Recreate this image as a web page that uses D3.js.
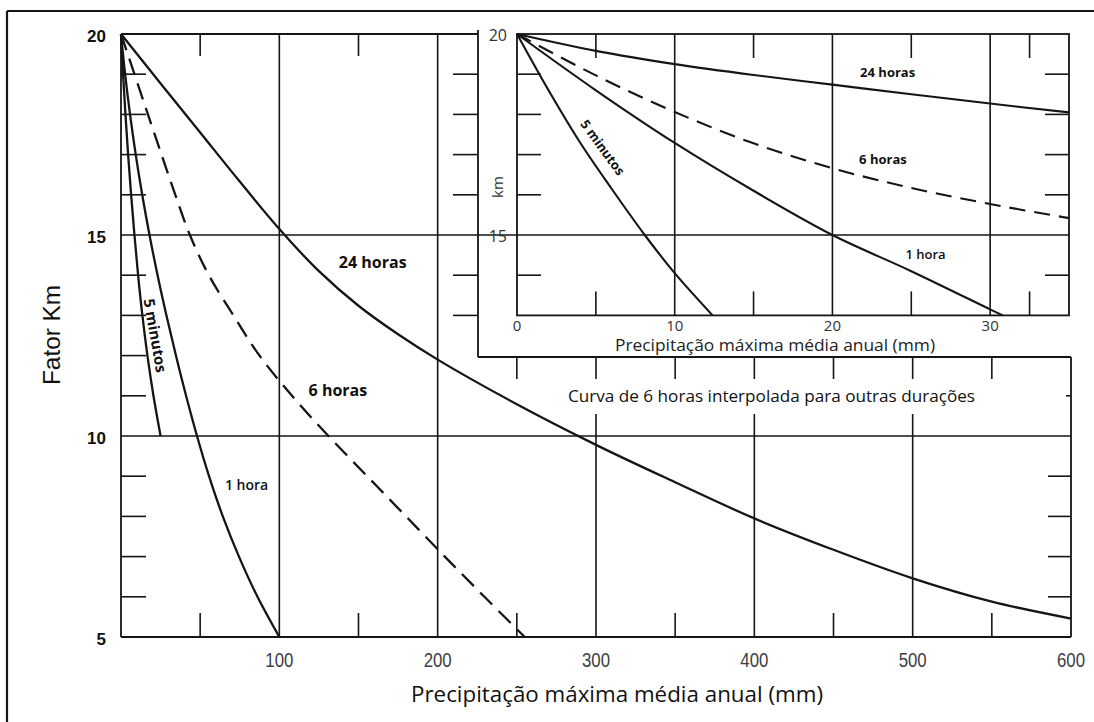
<!DOCTYPE html>
<html>
<head>
<meta charset="utf-8">
<script src="https://cdn.jsdelivr.net/npm/d3@7"></script>
<style>
  html, body { margin: 0; padding: 0; background: #fff; }
  svg { display: block; }
  text { fill: #111; }
</style>
</head>
<body>
<svg id="chart" width="1094" height="722"></svg>
<script>
// ---------- data: main chart (precipitation in mm, factor Km) ----------
const mainXTicks = [100, 200, 300, 400, 500, 600];
const mainYTicks = [20, 15, 10, 5];
const mainXGrid = [100, 200, 300, 400, 500];
const mainXMinor = [50, 150, 250, 350, 450, 550];
const mainYMinor = [19, 18, 17, 16, 14, 13, 12, 11, 9, 8, 7, 6];

const curve24h = [[0,20],[25,18.77],[50,17.55],[75,16.33],[100,15.15],[125,14.1],[150,13.24],[175,12.53],[200,11.9],[250,10.79],[300,9.78],[350,8.85],[400,7.95],[450,7.17],[500,6.46],[550,5.88],[600,5.46]];
const curve6h  = [[0,20],[8.5,19],[17,18],[25.6,17],[34.3,16],[43.5,15],[55.5,14],[71,13],[87.5,12],[108,11],[131,10],[155.5,9],[180,8],[204.5,7],[229.5,6],[255,5]];
const curve1h  = [[0,20],[2.6,19],[5.7,18],[9.3,17],[13.4,16],[18,15],[23.1,14],[28.7,13],[34.7,12],[41.1,11],[48,10],[55.6,9],[64.3,8],[74.5,7],[86.2,6],[100,5]];
const curve5m  = [[0,20],[1.3,19],[2.8,18],[4.5,17],[6.4,16],[8.5,15],[10.8,14],[13.5,13],[16.7,12],[20.5,11],[25,10]];

// ---------- data: detail panel (0–35 mm) ----------
const insetXTicks = [0, 10, 20, 30];
const insetYTicks = [20, 15];
const insetXGrid = [10, 20, 30];
const insetXMinor = [5, 15, 25, 32.5];
const insetYMinor = [19, 18, 17, 16, 14];

const inset24h = [[0,20],[5,19.58],[10,19.25],[15,18.98],[20,18.74],[25,18.5],[30,18.27],[35,18.05]];
const inset6h  = [[0,20],[5,18.97],[10,18.06],[15,17.28],[20,16.66],[25,16.17],[30,15.77],[35,15.42]];
const inset1h  = [[0,20],[5,18.6],[10,17.29],[15,16.1],[20,15.0],[25,14.1],[30,13.15],[30.8,13.0]];
const inset5m  = [[0,20],[2,18.6],[4,17.3],[6,16.15],[8.1,15],[10,14.05],[12.4,13.0]];

// ---------- drawing ----------
const svg = d3.select("#chart");
const INK = "#151515";

const x = d3.scaleLinear().domain([0, 600]).range([121, 1071]);
const y = d3.scaleLinear().domain([5, 20]).range([637, 34]);
const xi = d3.scaleLinear().domain([0, 35]).range([517, 1069]);
const yi = d3.scaleLinear().domain([13, 20]).range([y(13), y(20)]);

const insetLeft = 478;     // left edge of the detail panel block
const insetBottom = 357;   // bottom edge of the detail panel block

function seg(g, x1, y1, x2, y2, w) {
  g.append("line").attr("x1", x1).attr("y1", y1).attr("x2", x2).attr("y2", y2)
    .attr("stroke", INK).attr("stroke-width", w || 1.6);
}

// outer frame (top and left edges)
const frame = svg.append("g");
seg(frame, 7, 11, 1094, 11, 2.2);
seg(frame, 7, 11, 7, 722, 2.2);

// ----- main chart grid -----
const gm = svg.append("g");
seg(gm, x(0), y(20), insetLeft, y(20), 1.8);           // top edge (visible part)
seg(gm, x(0), y(20), x(0), y(5), 1.8);                 // left edge
seg(gm, x(0), y(5), x(600), y(5), 1.8);                // bottom edge
seg(gm, x(600), insetBottom, x(600), y(5), 1.8);       // right edge (below panel)

mainXGrid.forEach(v => {
  const top = x(v) < insetLeft ? y(20) : insetBottom;
  seg(gm, x(v), top, x(v), y(5), 1.6);
});
seg(gm, x(0), y(15), insetLeft, y(15), 1.6);
seg(gm, x(0), y(10), x(600), y(10), 1.6);

// minor ticks on the left edge
mainYMinor.forEach(v => seg(gm, x(0), y(v), x(0) + 25, y(v), 1.6));
// minor ticks on the bottom edge
mainXMinor.forEach(v => seg(gm, x(v), y(5), x(v), y(5) - 24, 1.6));
// minor ticks hanging from the top edges
mainXMinor.forEach(v => {
  const top = x(v) < insetLeft ? y(20) : insetBottom;
  seg(gm, x(v), top, x(v), top + 22, 1.6);
});
// minor ticks on the right edge
mainYMinor.filter(v => y(v) > insetBottom + 5).forEach(v => seg(gm, x(600), y(v), x(600) - 23, y(v), 1.6));

// ----- main curves -----
const smooth = d3.curveCatmullRom.alpha(0.5);
const lineMain = d3.line().x(d => x(d[0])).y(d => y(d[1])).curve(smooth);
const gc = svg.append("g").attr("fill", "none").attr("stroke", INK).attr("stroke-linecap", "butt");
gc.append("path").attr("d", lineMain(curve24h)).attr("stroke-width", 2.3);
gc.append("path").attr("d", lineMain(curve6h)).attr("stroke-width", 2.3).attr("stroke-dasharray", "17,9");
gc.append("path").attr("d", lineMain(curve1h)).attr("stroke-width", 2.3);
gc.append("path").attr("d", lineMain(curve5m)).attr("stroke-width", 2.3);

// ----- detail panel block -----
svg.append("rect").attr("x", insetLeft).attr("y", 13)
  .attr("width", 1080 - insetLeft).attr("height", insetBottom - 13).attr("fill", "#fff");

const gi = svg.append("g");
seg(gi, insetLeft, 30, insetLeft, insetBottom, 1.8);
seg(gi, insetLeft, insetBottom, x(600), insetBottom, 1.8);
// ticks pointing left from the block edge (main scale levels)
[19, 18, 17, 16, 14, 13].forEach(v => seg(gi, insetLeft, y(v), insetLeft - 25, y(v), 1.6));
// horizontal 15 line continuing through the panel
seg(gi, insetLeft, yi(15), xi(35), yi(15), 1.6);

// panel frame
gi.append("rect").attr("x", xi(0)).attr("y", yi(20))
  .attr("width", xi(35) - xi(0)).attr("height", yi(13) - yi(20))
  .attr("fill", "none").attr("stroke", INK).attr("stroke-width", 1.8);
insetXGrid.forEach(v => seg(gi, xi(v), yi(20), xi(v), yi(13), 1.6));
insetYMinor.forEach(v => {
  seg(gi, xi(0), yi(v), xi(0) + 24, yi(v), 1.6);
  seg(gi, xi(35), yi(v), xi(35) - 24, yi(v), 1.6);
});
insetXMinor.forEach(v => {
  seg(gi, xi(v), yi(20), xi(v), yi(20) + 24, 1.6);
  seg(gi, xi(v), yi(13), xi(v), yi(13) - 24, 1.6);
});

const lineInset = d3.line().x(d => xi(d[0])).y(d => yi(d[1])).curve(smooth);
const gic = svg.append("g").attr("fill", "none").attr("stroke", INK);
gic.append("path").attr("d", lineInset(inset24h)).attr("stroke-width", 2.1);
gic.append("path").attr("d", lineInset(inset6h)).attr("stroke-width", 2.1).attr("stroke-dasharray", "16,9");
gic.append("path").attr("d", lineInset(inset1h)).attr("stroke-width", 2.1);
gic.append("path").attr("d", lineInset(inset5m)).attr("stroke-width", 2.1);

// panel tick labels and titles
const gil = svg.append("g").attr("font-family", "'Open Sans', sans-serif").attr("font-size", 16);
gil.selectAll("text.ix").data(insetXTicks).enter().append("text")
  .attr("x", d => xi(d)).attr("y", 331).attr("text-anchor", "middle")
  .attr("font-size", 15).style("fill", "#333").text(d => d);
gil.selectAll("text.iy").data(insetYTicks).enter().append("text")
  .attr("x", 507).attr("y", d => yi(d) + 7).attr("text-anchor", "end")
  .style("fill", "#333").text(d => d);
gil.append("text").attr("transform", "translate(503,187) rotate(-90)")
  .attr("text-anchor", "middle").attr("font-size", 15).style("fill", "#333").text("km");
gil.append("text").attr("x", 775).attr("y", 351).attr("text-anchor", "middle")
  .attr("font-size", 16).attr("textLength", 320).attr("lengthAdjust", "spacingAndGlyphs")
  .style("fill", "#222").text("Precipitação máxima média anual (mm)");

// panel curve labels
const gilab = svg.append("g").attr("font-family", "'Open Sans', sans-serif").attr("font-size", 13)
  .attr("text-anchor", "middle").attr("dominant-baseline", "central");
gilab.append("text").attr("x", xi(23.5)).attr("y", yi(19.05)).attr("font-weight", 700).text("24 horas");
gilab.append("text").attr("x", xi(23.2)).attr("y", yi(16.89)).attr("font-weight", 700).text("6 horas");
gilab.append("text").attr("x", xi(25.9)).attr("y", yi(14.53)).attr("font-weight", 600).text("1 hora");
gilab.append("text").attr("transform", `translate(${xi(5.45)},${yi(17.18)}) rotate(54)`)
  .attr("font-weight", 700).text("5 minutos");

// ----- note about interpolation -----
svg.append("rect").attr("x", 556).attr("y", 379).attr("width", 510).attr("height", 35).attr("fill", "#fff");
svg.append("text").attr("x", 568).attr("y", 402)
  .attr("font-family", "'Open Sans', sans-serif").attr("font-size", 16)
  .attr("textLength", 407).attr("lengthAdjust", "spacingAndGlyphs")
  .text("Curva de 6 horas interpolada para outras durações");

// ----- main curve labels -----
const gml = svg.append("g").attr("font-family", "'Open Sans', sans-serif").attr("font-size", 16)
  .attr("text-anchor", "middle").attr("dominant-baseline", "central");
gml.append("text").attr("x", x(159)).attr("y", y(14.33)).attr("font-weight", 700).text("24 horas");
gml.append("text").attr("x", x(137)).attr("y", y(11.14)).attr("font-weight", 700).text("6 horas");
gml.append("text").attr("x", x(79.3)).attr("y", y(8.8)).attr("font-size", 14).attr("font-weight", 600).text("1 hora");
gml.append("text").attr("transform", `translate(${x(22)},${y(12.5)}) rotate(80)`)
  .attr("font-size", 15).attr("font-weight", 700).text("5 minutos");

// ----- main axes labels -----
const gax = svg.append("g");
gax.selectAll("text.my").data(mainYTicks).enter().append("text")
  .attr("x", 106).attr("y", d => y(d) + 8).attr("text-anchor", "end")
  .attr("font-family", "'Liberation Sans', Arial, sans-serif").attr("font-weight", 700).attr("font-size", 17)
  .text(d => d);
gax.selectAll("text.mx").data(mainXTicks).enter().append("text")
  .attr("transform", d => `translate(${x(d)},667) scale(0.8,1)`)
  .attr("text-anchor", "middle")
  .attr("font-family", "'Liberation Sans', Arial, sans-serif").attr("font-size", 21)
  .style("fill", "#3d3d45").text(d => d);

gax.append("text").attr("transform", "translate(60,335) rotate(-90)")
  .attr("text-anchor", "middle")
  .attr("font-family", "'Liberation Sans', Arial, sans-serif").attr("font-size", 23)
  .attr("textLength", 100).attr("lengthAdjust", "spacingAndGlyphs")
  .text("Fator Km");
gax.append("text").attr("x", 617).attr("y", 702).attr("text-anchor", "middle")
  .attr("font-family", "'Open Sans', sans-serif").attr("font-size", 22)
  .attr("textLength", 412).attr("lengthAdjust", "spacingAndGlyphs")
  .text("Precipitação máxima média anual (mm)");
</script>
</body>
</html>
